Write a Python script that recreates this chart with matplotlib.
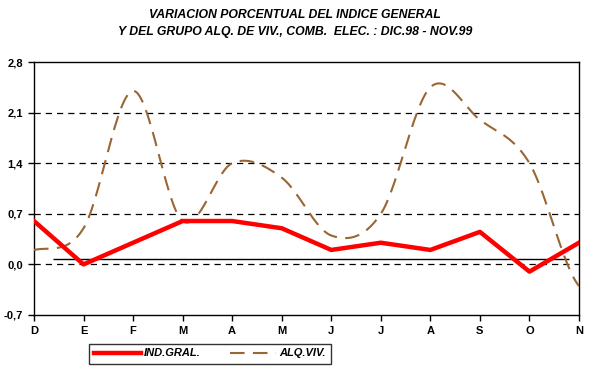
import numpy as np
import matplotlib
matplotlib.use("Agg")
import matplotlib.pyplot as plt

months = ["D", "E", "F", "M", "A", "M", "J", "J", "A", "S", "O", "N"]
ind_gral = [0.6, 0.0, 0.3, 0.6, 0.6, 0.5, 0.2, 0.3, 0.2, 0.45, -0.1, 0.3]
alq_viv = [0.2, 0.5, 2.4, 0.6, 1.4, 1.2, 0.4, 0.7, 2.45, 2.0, 1.4, -0.3]
yticks = [-0.7, 0.0, 0.7, 1.4, 2.1, 2.8]
ytick_labels = ["-0,7", "0,0", "0,7", "1,4", "2,1", "2,8"]
ref_line = 0.07
ref_span = (0.38, 10.8)

def catmull_rom(y, n=30):
    y = np.asarray(y, float)
    x = np.arange(len(y), dtype=float)
    p = np.concatenate([[y[0]], y, [y[-1]]])
    xs, ys = [], []
    for i in range(len(y) - 1):
        p0, p1, p2, p3 = p[i], p[i + 1], p[i + 2], p[i + 3]
        t = np.linspace(0, 1, n, endpoint=(i == len(y) - 2))
        c1 = p1 + (p2 - p0) / 6
        c2 = p2 - (p3 - p1) / 6
        yy = (1 - t) ** 3 * p1 + 3 * (1 - t) ** 2 * t * c1 + 3 * (1 - t) * t ** 2 * c2 + t ** 3 * p2
        xs.append(x[i] + t)
        ys.append(yy)
    return np.concatenate(xs), np.concatenate(ys)

fig = plt.figure(figsize=(5.9, 3.81), dpi=100)
ax = fig.add_axes([34 / 590, 1 - 315 / 381, 545 / 590, 253 / 381])

x = np.arange(len(months))
for yv in [0.0, 0.7, 1.4, 2.1]:
    ax.axhline(yv, color="black", lw=0.9, ls=(0, (5, 4)), zorder=1)
ax.hlines(ref_line, ref_span[0], ref_span[1], color="black", lw=1.0, zorder=2)

xs, ys = catmull_rom(alq_viv)
ax.plot(xs, ys, color="#996633", lw=1.5, ls=(0, (7, 4)), label="ALQ.VIV.", zorder=3)
ax.plot(x, ind_gral, color="#FF0000", lw=3.2, label="IND.GRAL.", zorder=4)

ax.set_xlim(0, len(months) - 1)
ax.set_ylim(-0.7, 2.8)
ax.set_xticks(x)
ax.set_xticklabels(months, fontsize=8, fontweight="bold", family="Liberation Sans")
ax.set_yticks(yticks)
ax.set_yticklabels(ytick_labels, fontsize=8, fontweight="bold", family="Liberation Sans")
ax.tick_params(axis="both", direction="out", length=4, width=1, pad=4)
for s in ax.spines.values():
    s.set_linewidth(1)

fig.text(0.5, 1 - 15 / 381, "VARIACION PORCENTUAL DEL INDICE GENERAL", ha="center", va="center",
         fontsize=8.8, fontweight="bold", style="italic", family="Liberation Sans")
fig.text(0.5, 1 - 32 / 381, "Y DEL GRUPO ALQ. DE VIV., COMB.  ELEC. : DIC.98 - NOV.99", ha="center", va="center",
         fontsize=8.8, fontweight="bold", style="italic", family="Liberation Sans")

handles, labels = ax.get_legend_handles_labels()
leg = fig.legend(handles[::-1], labels[::-1], loc="center", bbox_to_anchor=(210 / 590, 1 - 353.5 / 381), ncol=2,
                 frameon=True, fancybox=False, edgecolor="black", handlelength=4.2, columnspacing=2.6,
                 borderpad=0.45, handletextpad=0.3,
                 prop={"family": "Liberation Sans", "weight": "bold", "style": "italic", "size": 8})
leg.get_frame().set_linewidth(1)

fig.savefig("out.png", dpi=100)
